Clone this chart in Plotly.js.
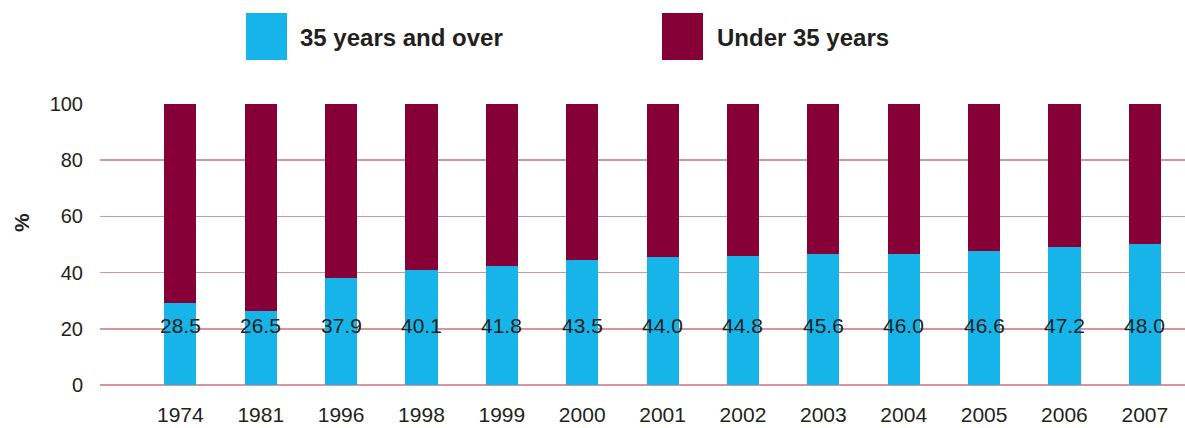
<!DOCTYPE html>
<html>
<head>
<meta charset="utf-8">
<script src="https://cdn.plot.ly/plotly-3.0.1.min.js"></script>
<style>html,body{margin:0;padding:0;background:#fff;}#chart{width:1185px;height:428px;}</style>
</head>
<body>
<div id="chart"></div>
<script>
// Categories (survey years)
const years = ["1974","1981","1996","1998","1999","2000","2001","2002","2003","2004","2005","2006","2007"];
// Share aged 35 and over, as drawn by the bars (%)
const over35 = [29.2, 26.4, 38.2, 40.9, 42.3, 44.5, 45.5, 45.9, 46.6, 46.6, 47.7, 49.1, 50.2];
// Printed data labels
const over35Labels = ["28.5","26.5","37.9","40.1","41.8","43.5","44.0","44.8","45.6","46.0","46.6","47.2","48.0"];
// Share under 35 (remainder of 100%)
const under35 = over35.map(v => +(100 - v).toFixed(1));
const seriesNames = ["35 years and over", "Under 35 years"];
const seriesColors = ["#16b4e9", "#860037"];

const W = 1185, H = 428;
const M = {l: 100, r: 0, t: 104, b: 43};
const px2x = p => (p - M.l) / (W - M.l - M.r);
const py2y = p => (H - M.b - p) / (H - M.t - M.b);

const FONT = "Liberation Sans, Arial, Helvetica, sans-serif";
const TXT = "#231f20";

const traces = [
  {type: "bar", x: years, y: over35, name: seriesNames[0], marker: {color: seriesColors[0]}, hoverinfo: "x+y+name"},
  {type: "bar", x: years, y: under35, name: seriesNames[1], marker: {color: seriesColors[1]}, hoverinfo: "x+y+name"}
];

// Data labels (category index used so numeric-looking names are not read as positions)
const annotations = years.map((yr, i) => ({
  x: i, y: 21, xref: "x", yref: "y", text: over35Labels[i], showarrow: false,
  font: {family: FONT, size: 21, color: TXT}, xanchor: "center", yanchor: "middle"
}));

// Custom legend (large swatches)
const shapes = [];
const legendItems = [
  {x0: 246, x1: 287, tx: 298},
  {x0: 662, x1: 703, tx: 715}
];
legendItems.forEach((it, i) => {
  shapes.push({type: "rect", xref: "paper", yref: "paper",
    x0: px2x(it.x0), x1: px2x(it.x1), y0: py2y(60), y1: py2y(13),
    fillcolor: seriesColors[i], line: {width: 0}});
  annotations.push({xref: "paper", yref: "paper", x: px2x(it.tx), y: py2y(37),
    text: "<b>" + seriesNames[i] + "</b>", showarrow: false, xanchor: "left", yanchor: "middle",
    font: {family: FONT, size: 24, color: TXT}});
});

// Axis title "%"
annotations.push({xref: "paper", yref: "paper", x: px2x(21), y: py2y(223), text: "<b>%</b>",
  showarrow: false, textangle: -90, xanchor: "center", yanchor: "middle",
  font: {family: FONT, size: 21, color: TXT}});

const layout = {
  width: W, height: H,
  margin: M,
  paper_bgcolor: "#fff", plot_bgcolor: "#fff",
  barmode: "stack",
  bargap: 0.6,
  showlegend: false,
  font: {family: FONT, color: TXT},
  xaxis: {
    type: "category", range: [-1, 12.5], showgrid: false, zeroline: false, showline: false,
    ticks: "", tickfont: {family: FONT, size: 21, color: TXT}, ticklabelstandoff: 15, fixedrange: true
  },
  yaxis: {
    range: [0, 100], dtick: 20, showgrid: true, gridcolor: "#d6949e", gridwidth: 1.5,
    zeroline: true, zerolinecolor: "#d6949e", zerolinewidth: 1.5, showline: false,
    ticks: "", tickfont: {family: FONT, size: 20, color: TXT}, ticklabelstandoff: 16,
    fixedrange: true
  },
  shapes: shapes,
  annotations: annotations
};

Plotly.newPlot("chart", traces, layout, {displayModeBar: false, staticPlot: true});
</script>
</body>
</html>
